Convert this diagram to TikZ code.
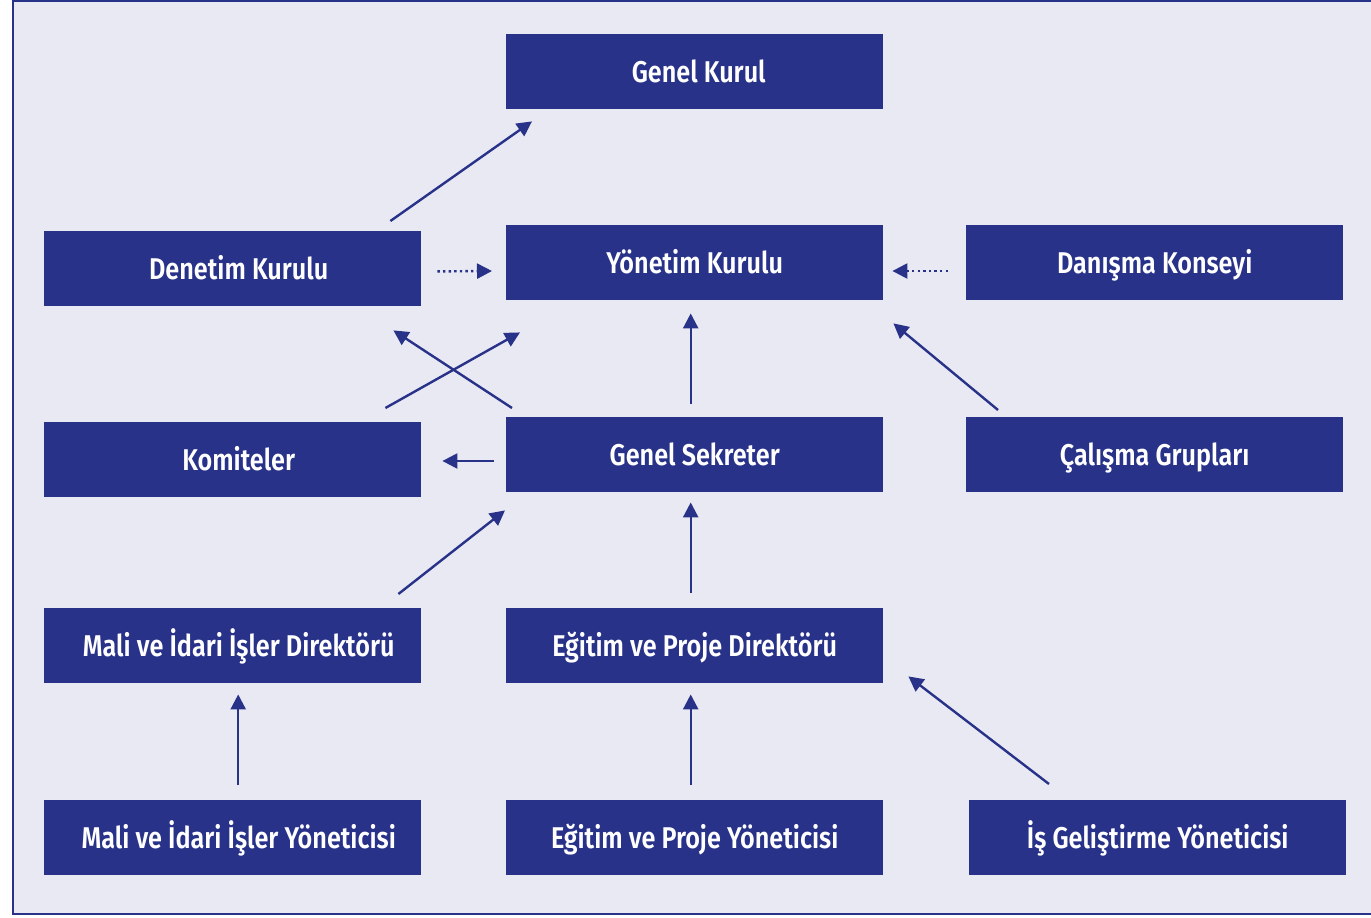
\documentclass[tikz,border=0pt]{standalone}
\usepackage{fontspec}
\setmainfont{Fira Sans}[FakeStretch=0.84, BoldFont={* SemiBold}]
\usetikzlibrary{arrows.meta}
\definecolor{navy}{HTML}{283289}
\definecolor{lav}{HTML}{E9E9F3}
\tikzset{
  box/.style={fill=navy, draw=none, minimum width=377pt, minimum height=75pt, inner sep=0pt,
    text=white, font=\fontsize{30}{34}\selectfont\bfseries, anchor=north west,
    text height=24pt, text depth=2pt},
  arr/.style={draw=navy, line width=2.4pt, -{Triangle[length=15pt,width=15pt]}},
  darr/.style={arr, dash pattern=on 2.4pt off 3.2pt}
}
\newcommand{\lsh}{\hspace*{12pt}}
\begin{document}
\begin{tikzpicture}[x=1pt,y=-1pt]
\useasboundingbox (0,0) rectangle (1371,918);
\fill[white] (0,0) rectangle (1371,918);
\draw[draw=navy, fill=lav, line width=2pt] (13,1) rectangle (1380,914);
\node[box] (gk) at (506,34) {\hspace*{8pt}Genel Kurul};
\node[box] (dk) at (44,231) {\lsh Denetim Kurulu};
\node[box] (yk) at (506,225) {Yönetim Kurulu};
\node[box] (dan) at (966,225) {Danışma Konseyi};
\node[box] (kom) at (44,422) {\lsh Komiteler};
\node[box] (gs) at (506,417) {Genel Sekreter};
\node[box] (cg) at (966,417) {Çalışma Grupları};
\node[box] (md) at (44,608) {\lsh Mali ve İdari İşler Direktörü};
\node[box] (ed) at (506,608) {Eğitim ve Proje Direktörü};
\node[box] (my) at (44,800) {\lsh Mali ve İdari İşler Yöneticisi};
\node[box] (ey) at (506,800) {Eğitim ve Proje Yöneticisi};
\node[box] (ig) at (969,800) {İş Geliştirme Yöneticisi};
% arrows
\draw[arr] ([shift={(-31,-10)}]dk.north east) -- ([shift={(26,12)}]gk.south west);
\draw[darr] ([shift={(16,-35)}]dk.south east) -- ([shift={(-14,46)}]yk.north west);
\draw[darr] ([shift={(-18,46)}]dan.north west) -- ([shift={(9,46)}]yk.north east);
\draw[arr] ([shift={(-36,-14)}]kom.north east) -- ([shift={(14,32)}]yk.south west);
\draw[arr] ([shift={(6,-9)}]gs.north west) -- ([shift={(-28,24)}]dk.south east);
\draw[arr] ([shift={(-4,-13)}]gs.north) -- ([shift={(-4,13)}]yk.south);
\draw[arr] ([shift={(32,-7)}]cg.north west) -- ([shift={(10,23)}]yk.south east);
\draw[arr] ([shift={(-12,44)}]gs.north west) -- ([shift={(21,39)}]kom.north east);
\draw[arr] ([shift={(-23,-14)}]md.north east) -- ([shift={(-1,18)}]gs.south west);
\draw[arr] ([shift={(-4,-15)}]ed.north) -- ([shift={(-4,10)}]gs.south);
\draw[arr] ([shift={(5.5,-15)}]my.north) -- ([shift={(5.5,11)}]md.south);
\draw[arr] ([shift={(-4,-15)}]ey.north) -- ([shift={(-4,11)}]ed.south);
\draw[arr] ([shift={(80,-16)}]ig.north west) -- ([shift={(25,-7)}]ed.south east);
\end{tikzpicture}
\end{document}
